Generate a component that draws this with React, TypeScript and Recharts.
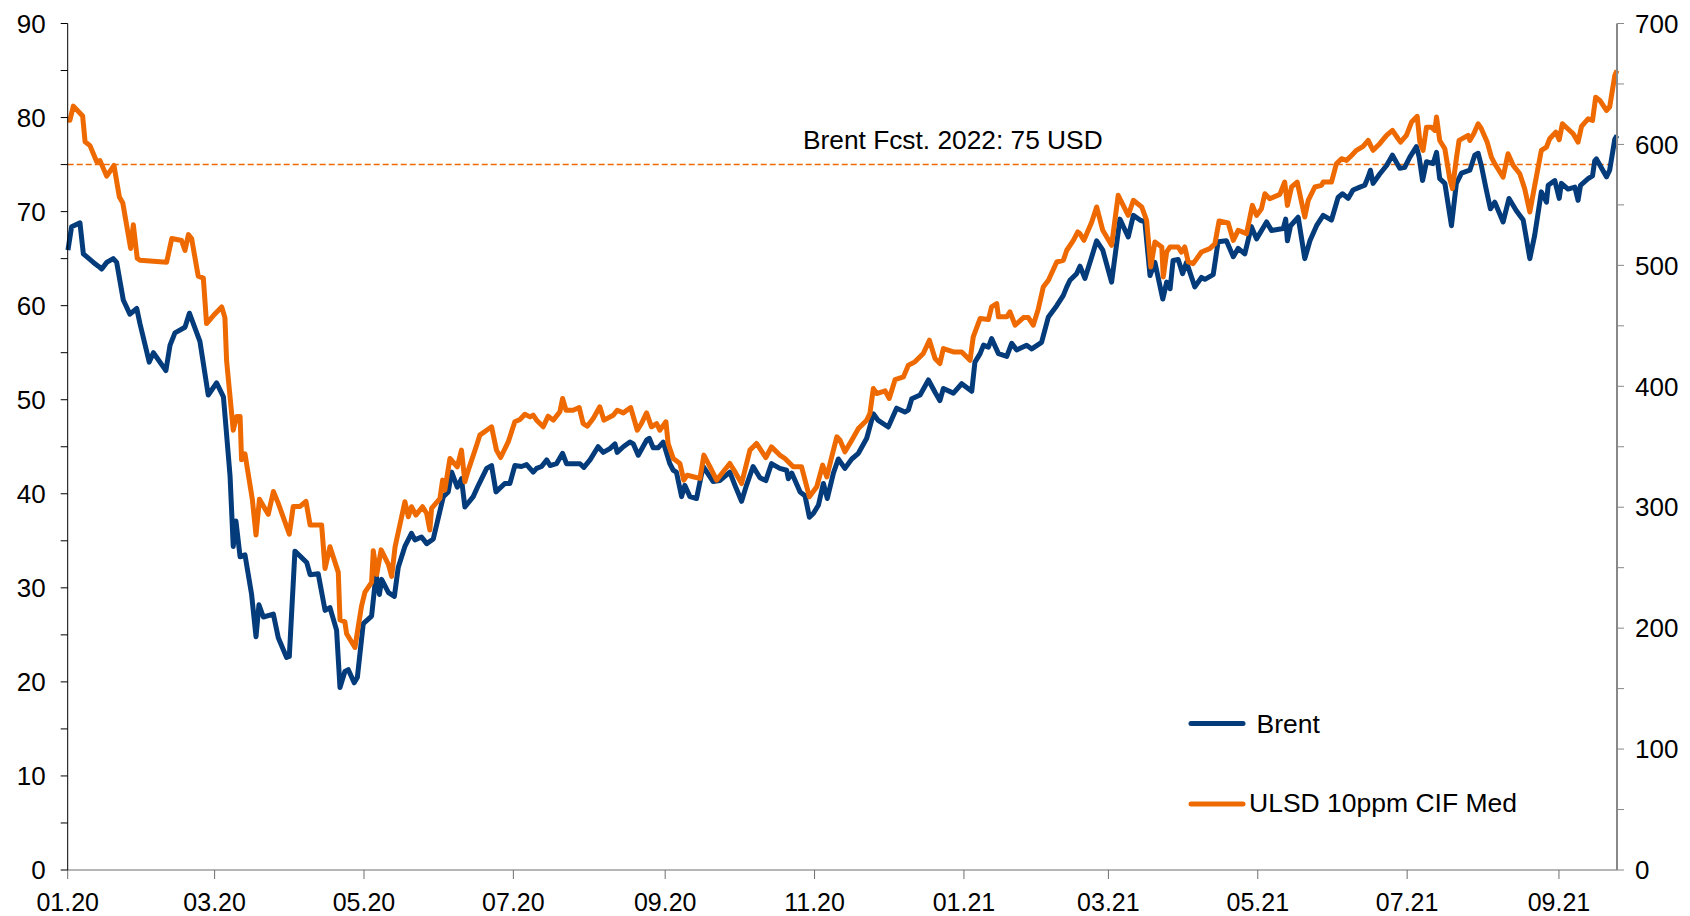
import React from "react";
import { LineChart, Line, XAxis, YAxis, ReferenceLine } from "recharts";

const FONT = '"Liberation Sans", Arial, Helvetica, sans-serif';
const BRENT_COLOR = "#033B7B";
const ULSD_COLOR = "#EE6A00";

// x axis: days since 1 Jan 2020
const tickDates = [
    "2020-01-01", "2020-03-01", "2020-05-01", "2020-07-01", "2020-09-01", "2020-11-01",
    "2021-01-01", "2021-03-01", "2021-05-01", "2021-07-01", "2021-09-01",
];
const tickLabels = ["01.20", "03.20", "05.20", "07.20", "09.20", "11.20", "01.21", "03.21", "05.21", "07.21", "09.21"];
const X_END = 632.7;

const leftTicks = [0, 5, 10, 15, 20, 25, 30, 35, 40, 45, 50, 55, 60, 65, 70, 75, 80, 85, 90];
const rightTicks = [0, 50, 100, 150, 200, 250, 300, 350, 400, 450, 500, 550, 600, 650, 700];
const BRENT_FCST = 75;

// Brent, USD/bbl (left axis)
const brentDays = [
    0.1, 1.6, 5.0, 6.4, 10.5, 12.5, 13.9, 15.9, 18.6, 20.0,
    22.7, 25.4, 28.2, 29.5, 33.3, 35.0, 40.1, 41.8, 43.8, 47.9,
    49.7, 54.0, 57.4, 60.8, 63.6, 66.3, 67.6, 68.7, 70.4, 72.4,
    75.1, 76.9, 78.1, 79.9, 84.0, 86.0, 89.4, 90.5, 92.8, 97.6,
    99.0, 102.3, 105.1, 107.1, 109.8, 111.2, 113.2, 114.6, 117.0, 118.3,
    120.7, 124.1, 125.9, 127.3, 128.2, 131.0, 133.4, 135.0, 137.7, 140.4,
    141.8, 144.5, 146.6, 149.3, 153.4, 155.4, 156.8, 159.1, 160.8, 162.2,
    165.6, 167.7, 171.1, 173.1, 174.9, 178.5, 180.6, 182.6, 185.3, 187.4,
    190.1, 191.5, 193.5, 195.6, 197.0, 199.6, 202.1, 203.7, 209.2, 210.8,
    213.3, 216.6, 218.7, 221.4, 223.5, 224.4, 226.9, 229.6, 231.0, 233.0,
    236.4, 237.5, 239.1, 241.2, 243.2, 245.9, 247.3, 248.6, 250.7, 252.0,
    254.1, 256.8, 259.5, 263.6, 266.3, 270.4, 272.5, 275.2, 277.2, 279.9,
    282.7, 285.1, 287.4, 290.8, 293.6, 294.3, 295.7, 299.1, 301.1, 302.9,
    304.5, 306.6, 308.6, 310.2, 312.7, 314.7, 317.4, 320.2, 322.9, 326.3,
    328.3, 329.0, 331.0, 335.1, 338.5, 341.9, 343.3, 344.7, 348.1, 351.5,
    354.2, 356.2, 357.6, 361.7, 365.1, 369.2, 370.5, 372.6, 374.0, 376.0,
    377.3, 380.1, 383.5, 385.5, 387.5, 391.6, 393.7, 397.7, 400.5, 403.9,
    406.6, 408.0, 409.3, 412.0, 413.4, 415.4, 418.2, 420.2, 422.7, 426.3,
    429.7, 433.1, 435.2, 437.9, 439.9, 442.0, 444.0, 447.2, 448.8, 450.2,
    451.4, 453.5, 455.3, 456.9, 460.3, 463.0, 464.4, 467.8, 469.8, 473.2,
    476.0, 478.0, 480.7, 483.4, 485.5, 489.6, 491.6, 496.4, 497.4, 498.1,
    499.4, 502.5, 505.2, 507.3, 510.0, 512.7, 516.1, 518.8, 520.6, 522.9,
    524.9, 527.7, 529.7, 531.1, 532.0, 533.1, 535.8, 538.6, 541.0, 544.0,
    546.0, 548.1, 550.8, 551.9, 553.3, 554.9, 557.6, 559.0, 560.3, 562.4,
    565.1, 567.1, 569.2, 572.6, 574.6, 576.0, 577.3, 579.1, 581.0, 582.8,
    586.2, 588.6, 591.6, 594.4, 597.1, 599.1, 601.8, 603.9, 604.6, 607.3,
    609.1, 610.0, 612.7, 615.5, 616.8, 617.8, 620.9, 622.7, 623.6, 624.3,
    628.4, 629.7, 631.8, 632.7,
];
const brentValues = [
    65.9, 68.4, 68.8, 65.5, 64.6, 64.2, 63.9, 64.6, 65.0, 64.6,
    60.6, 59.1, 59.7, 58.1, 54.0, 55.0, 53.1, 55.8, 57.1, 57.7,
    59.2, 56.2, 50.5, 51.8, 50.3, 41.9, 34.4, 37.1, 33.3, 33.5,
    29.3, 24.8, 28.2, 26.9, 27.2, 24.7, 22.6, 22.7, 33.9, 32.7,
    31.4, 31.5, 27.6, 27.9, 25.5, 19.4, 21.1, 21.3, 19.9, 20.5,
    26.2, 27.0, 31.4, 29.3, 30.9, 29.5, 29.1, 32.2, 34.4, 35.8,
    35.1, 35.4, 34.7, 35.2, 39.7, 40.2, 42.3, 40.7, 41.6, 38.6,
    39.7, 40.9, 42.7, 43.0, 40.2, 41.1, 41.1, 43.0, 42.9, 43.1,
    42.3, 42.7, 42.9, 43.6, 43.0, 43.2, 44.3, 43.2, 43.2, 42.8,
    43.6, 45.0, 44.4, 44.8, 45.3, 44.4, 45.0, 45.5, 45.3, 44.1,
    45.7, 45.9, 44.9, 44.9, 45.5, 43.2, 42.5, 42.3, 39.7, 40.9,
    39.7, 39.5, 42.9, 41.3, 41.4, 42.3, 40.9, 39.2, 40.9, 42.9,
    41.7, 41.4, 43.2, 42.7, 42.5, 41.6, 42.2, 40.2, 39.8, 37.5,
    37.9, 38.8, 41.1, 39.5, 42.2, 43.7, 42.7, 43.7, 44.3, 45.9,
    47.8, 48.5, 47.8, 47.1, 49.1, 48.7, 48.9, 50.1, 50.5, 52.1,
    50.8, 49.9, 51.2, 50.7, 51.7, 50.9, 54.0, 54.9, 55.8, 55.6,
    56.5, 54.9, 54.6, 56.0, 55.3, 55.8, 55.4, 56.1, 58.8, 60.0,
    61.1, 62.0, 62.7, 63.4, 64.2, 62.9, 65.2, 66.9, 65.9, 62.5,
    69.2, 67.3, 69.6, 69.1, 68.9, 63.2, 64.6, 60.7, 62.5, 61.8,
    64.8, 64.9, 63.4, 64.6, 62.0, 63.0, 62.8, 63.3, 66.8, 66.9,
    65.2, 66.1, 65.5, 68.4, 67.1, 68.9, 68.0, 68.2, 69.2, 66.9,
    68.5, 69.4, 65.0, 66.9, 68.5, 69.6, 69.1, 71.5, 71.9, 71.4,
    72.3, 72.6, 72.8, 73.7, 74.4, 73.0, 74.0, 74.9, 76.0, 74.6,
    74.7, 75.8, 76.9, 75.8, 73.3, 75.3, 75.1, 76.3, 73.5, 73.0,
    68.5, 73.0, 74.1, 74.4, 76.0, 76.2, 74.9, 72.6, 70.3, 71.0,
    68.9, 71.4, 70.1, 69.1, 65.0, 67.5, 72.1, 71.0, 72.8, 73.3,
    71.4, 73.0, 72.4, 72.6, 71.2, 72.8, 73.5, 73.8, 75.4, 75.6,
    73.7, 74.4, 77.7, 78.1,
];

// ULSD 10ppm CIF Med, USD/t (right axis)
const ulsdDays = [
    0.0, 0.9, 2.3, 6.1, 7.1, 9.1, 11.8, 13.2, 15.9, 18.9,
    21.1, 22.5, 25.7, 26.8, 28.4, 29.5, 40.4, 42.5, 46.5, 47.9,
    49.3, 50.6, 53.3, 55.4, 56.7, 59.5, 62.9, 64.2, 64.9, 67.6,
    69.0, 70.4, 71.0, 72.4, 75.4, 76.9, 78.3, 81.9, 84.0, 86.0,
    90.5, 92.1, 94.9, 97.3, 99.0, 103.7, 105.1, 107.1, 110.5, 111.2,
    113.2, 113.9, 117.3, 120.0, 121.4, 124.1, 124.8, 126.2, 128.0, 131.0,
    132.3, 133.7, 137.7, 139.1, 140.4, 142.2, 144.9, 146.6, 147.9, 148.6,
    152.0, 153.1, 154.0, 156.1, 159.1, 160.8, 162.2, 163.6, 167.0, 168.3,
    171.1, 173.1, 175.1, 176.8, 179.9, 182.6, 184.7, 186.7, 188.8, 190.1,
    191.5, 194.2, 196.2, 198.3, 201.0, 202.1, 203.5, 206.4, 208.9, 210.5,
    212.2, 214.6, 217.3, 219.0, 222.8, 224.4, 226.9, 229.9, 232.6, 234.3,
    236.4, 238.4, 240.5, 241.8, 244.3, 245.2, 247.3, 250.0, 251.6, 253.0,
    255.4, 258.2, 259.8, 262.3, 265.0, 267.7, 270.4, 272.5, 275.2, 278.6,
    281.3, 285.1, 287.4, 290.8, 292.9, 296.3, 299.7, 302.9, 305.9, 308.3,
    310.0, 312.0, 314.1, 315.4, 317.4, 320.2, 322.9, 326.3, 327.6, 329.0,
    330.4, 333.8, 335.5, 337.9, 341.3, 343.3, 346.0, 349.4, 351.9, 354.2,
    356.2, 357.6, 361.7, 365.1, 368.5, 369.8, 372.6, 376.0, 377.3, 379.4,
    380.1, 383.5, 384.8, 386.9, 390.3, 392.3, 394.3, 396.4, 398.4, 400.5,
    403.9, 406.6, 408.0, 410.7, 412.5, 413.4, 415.0, 418.2, 420.2, 422.7,
    426.3, 429.0, 433.1, 435.2, 438.6, 440.6, 442.3, 444.0, 446.8, 447.4,
    448.8, 450.2, 453.5, 454.8, 456.2, 457.6, 459.6, 463.0, 466.4, 468.5,
    470.2, 473.9, 476.0, 478.0, 481.4, 483.8, 485.5, 487.5, 488.9, 490.9,
    495.0, 497.0, 498.1, 499.8, 502.1, 505.2, 506.6, 509.3, 512.0, 512.7,
    516.1, 518.1, 520.2, 522.2, 524.3, 526.3, 529.0, 531.1, 532.4, 533.1,
    535.8, 538.6, 541.0, 543.3, 544.3, 546.7, 548.8, 551.1, 552.2, 553.5,
    554.9, 556.9, 558.3, 559.0, 560.3, 562.4, 564.4, 565.5, 567.1, 568.2,
    571.9, 572.6, 574.2, 576.0, 577.3, 579.7, 581.4, 582.8, 586.2, 588.2,
    590.3, 593.0, 595.0, 597.1, 599.1, 601.8, 603.9, 605.2, 607.7, 609.1,
    610.4, 614.8, 616.8, 618.2, 620.9, 622.7, 624.0, 625.7, 628.4, 629.7,
    631.8, 632.7,
];
const ulsdValues = [
    620.2, 620.0, 631.7, 623.5, 602.2, 599.0, 585.9, 586.6, 573.8, 582.6,
    556.5, 551.6, 514.0, 533.6, 505.8, 504.2, 502.6, 522.2, 520.5, 512.4,
    525.4, 522.2, 491.1, 489.5, 451.9, 458.5, 465.6, 456.8, 420.9, 363.7,
    375.1, 375.1, 339.2, 344.1, 306.5, 277.1, 306.5, 294.1, 313.0, 303.2,
    277.7, 300.6, 300.6, 304.9, 285.3, 285.3, 249.3, 267.3, 246.1, 206.8,
    205.2, 195.4, 184.0, 218.3, 229.7, 237.9, 264.0, 244.4, 264.7, 252.6,
    242.8, 267.3, 304.5, 292.1, 300.4, 293.5, 300.4, 294.8, 281.1, 299.0,
    307.2, 322.4, 314.1, 340.3, 333.4, 347.2, 321.0, 330.7, 351.3, 359.6,
    363.7, 366.5, 347.2, 341.1, 354.0, 370.6, 372.5, 376.9, 374.7, 376.1,
    372.0, 366.5, 375.3, 372.0, 378.9, 389.9, 380.2, 380.2, 382.4, 369.2,
    367.0, 373.4, 383.0, 372.0, 376.1, 380.2, 378.0, 382.4, 363.7, 369.2,
    378.0, 366.5, 369.2, 363.7, 370.6, 352.7, 340.3, 336.2, 322.4, 326.5,
    325.2, 323.8, 343.1, 333.4, 322.4, 329.3, 336.2, 329.3, 319.6, 347.2,
    352.7, 341.1, 349.9, 343.1, 340.3, 333.4, 333.4, 308.6, 316.9, 334.8,
    325.1, 341.6, 358.2, 355.4, 345.8, 355.4, 365.1, 372.0, 377.5, 398.1,
    394.0, 396.2, 389.9, 405.6, 407.8, 417.4, 420.2, 427.1, 438.1, 423.0,
    418.8, 431.2, 428.4, 428.4, 421.5, 440.8, 456.0, 455.2, 465.6, 468.4,
    457.4, 457.4, 461.5, 450.5, 456.8, 456.8, 450.5, 464.2, 482.1, 487.7,
    502.8, 504.2, 512.5, 520.7, 527.6, 526.2, 520.7, 535.9, 548.3, 529.0,
    516.6, 557.9, 541.4, 553.8, 548.3, 537.2, 498.7, 519.3, 515.2, 490.4,
    511.1, 515.2, 515.2, 511.0, 515.2, 502.8, 501.4, 511.0, 513.8, 517.9,
    536.7, 535.0, 520.7, 529.0, 526.2, 549.6, 541.3, 546.8, 559.2, 555.1,
    558.7, 568.9, 549.6, 564.8, 568.9, 540.0, 553.7, 564.8, 566.1, 568.9,
    568.9, 584.0, 588.2, 586.8, 590.9, 595.1, 598.4, 603.3, 597.8, 595.1,
    600.6, 607.5, 611.6, 604.7, 601.9, 607.5, 618.5, 623.2, 601.9, 595.1,
    614.3, 614.3, 611.6, 622.6, 603.3, 596.4, 571.6, 563.4, 588.2, 603.3,
    607.5, 603.3, 608.8, 617.1, 613.0, 601.9, 589.5, 584.0, 573.0, 592.3,
    582.7, 575.8, 563.4, 544.1, 566.1, 595.1, 597.8, 604.7, 610.2, 603.9,
    617.1, 608.8, 601.9, 614.9, 621.2, 619.8, 639.1, 636.4, 628.1, 630.9,
    657.0, 661.2,
];

const dayOf = (iso: string) => (Date.parse(iso) - Date.parse("2020-01-01")) / 86400000;
const xTicks = tickDates.map(dayOf);

const brentData = brentDays.map((day, i) => ({ day, v: brentValues[i] }));
const ulsdData = ulsdDays.map((day, i) => ({ day, v: ulsdValues[i] }));

const tickStyle = { fill: "#000", fontSize: 26, fontFamily: FONT };

export default function App() {
    return (
        <div style={{ position: "absolute", left: 0, top: 0, width: 1690, height: 916, background: "#fff", fontFamily: FONT }}>
            <LineChart width={1690} height={916} margin={{ top: 23.5, right: 0, bottom: 0, left: 0 }}>
                <XAxis
                    xAxisId="x"
                    dataKey="day"
                    type="number"
                    domain={[0, X_END]}
                    ticks={xTicks}
                    interval={0}
                    tickFormatter={(v: number) => tickLabels[xTicks.indexOf(v)] ?? ""}
                    height={46}
                    tickSize={9}
                    tickMargin={14}
                    axisLine={{ stroke: "#6f6f6f", strokeWidth: 1.2 }}
                    tickLine={{ stroke: "#6f6f6f" }}
                    tick={{ ...tickStyle, fontSize: 25 }}
                />
                <YAxis
                    yAxisId="l"
                    domain={[0, 90]}
                    ticks={leftTicks}
                    interval={0}
                    tickFormatter={(v: number) => (v % 10 === 0 ? String(v) : "")}
                    width={67.7}
                    tickSize={7}
                    tickMargin={15}
                    axisLine={{ stroke: "#000", strokeWidth: 1 }}
                    tickLine={{ stroke: "#000" }}
                    tick={tickStyle}
                />
                <YAxis
                    yAxisId="r"
                    orientation="right"
                    domain={[0, 700]}
                    ticks={rightTicks}
                    interval={0}
                    tickFormatter={(v: number) => (v % 100 === 0 ? String(v) : "")}
                    width={73}
                    tickSize={7}
                    tickMargin={11}
                    axisLine={{ stroke: "#888", strokeWidth: 2 }}
                    tickLine={{ stroke: "#888" }}
                    tick={tickStyle}
                />
                <ReferenceLine
                    xAxisId="x"
                    yAxisId="l"
                    y={BRENT_FCST}
                    stroke={ULSD_COLOR}
                    strokeWidth={1.5}
                    strokeDasharray="6 3"
                />
                <Line
                    xAxisId="x"
                    yAxisId="l"
                    data={brentData}
                    dataKey="v"
                    name="Brent"
                    type="linear"
                    stroke={BRENT_COLOR}
                    strokeWidth={5}
                    strokeLinejoin="round"
                    dot={false}
                    activeDot={false}
                    isAnimationActive={false}
                />
                <Line
                    xAxisId="x"
                    yAxisId="r"
                    data={ulsdData}
                    dataKey="v"
                    name="ULSD 10ppm CIF Med"
                    type="linear"
                    stroke={ULSD_COLOR}
                    strokeWidth={5}
                    strokeLinejoin="round"
                    dot={false}
                    activeDot={false}
                    isAnimationActive={false}
                />
            </LineChart>

            {/* annotation + legend overlay */}
            <svg width={1690} height={916} style={{ position: "absolute", left: 0, top: 0, pointerEvents: "none" }}>
                <text x={803} y={149.3} fontSize={26.3} fontFamily={FONT} fill="#000">
                    Brent Fcst. 2022: 75 USD
                </text>
                <line x1={1191} y1={723.5} x2={1243} y2={723.5} stroke={BRENT_COLOR} strokeWidth={5} strokeLinecap="round" />
                <text x={1256.5} y={733.3} fontSize={26.5} fontFamily={FONT} fill="#000">
                    Brent
                </text>
                <line x1={1191} y1={804} x2={1243} y2={804} stroke={ULSD_COLOR} strokeWidth={5} strokeLinecap="round" />
                <text x={1249} y={811.7} fontSize={26.5} fontFamily={FONT} fill="#000">
                    ULSD 10ppm CIF Med
                </text>
            </svg>
        </div>
    );
}
